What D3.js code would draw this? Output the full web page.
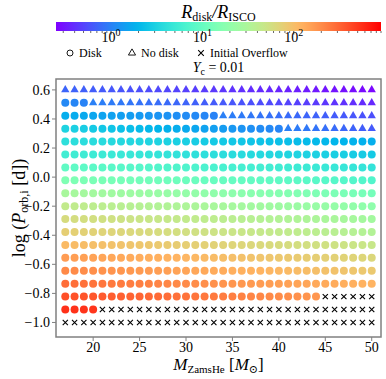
<!DOCTYPE html>
<html>
<head>
<meta charset="utf-8">
<script src="https://cdn.jsdelivr.net/npm/d3@7"></script>
<style>
  body { margin: 0; background: #fff; }
  text { font-family: "Liberation Serif", "DejaVu Serif", serif; fill: #000; }
</style>
</head>
<body>
<div id="chart"></div>
<script>
// grid of initial helium star masses and orbital periods
var masses = [17, 18, 19, 20, 21, 22, 23, 24, 25, 26, 27, 28, 29, 30, 31, 32, 33,
              34, 35, 36, 37, 38, 39, 40, 41, 42, 43, 44, 45, 46, 47, 48, 49, 50];
var logPorb = [-1.0, -0.9111, -0.8222, -0.7333, -0.6444, -0.5556, -0.4667, -0.3778, -0.2889, -0.2,
               -0.1111, -0.0222, 0.0667, 0.1556, 0.2444, 0.3333, 0.4222, 0.5111, 0.6];
var xTicks = [20, 25, 30, 35, 40, 45, 50];
var yTicks = [-1.0, -0.8, -0.6, -0.4, -0.2, 0.0, 0.2, 0.4, 0.6];
var cbarTicks = [1, 10, 100];
var cbarRange = [0.25, 900];

// R_disk / R_ISCO per row of logPorb, one value per mass; a short row means
// the remaining masses overflow their Roche lobe at the start
var ratioRows = [
  [],
  [550, 540, 530, 520],
  [396, 384, 373, 362, 351, 340, 330, 320, 311, 302, 293, 284, 275, 267, 259, 251, 244, 237, 230, 223,
   216, 210, 203, 197, 192, 186, 180, 175],
  [286, 278, 271, 263, 256, 249, 243, 236, 230, 224, 218, 212, 206, 200, 195, 190, 185, 180, 175, 170,
   166, 161, 157, 153, 149, 145, 141, 137, 133, 130, 126, 123, 120, 116],
  [206, 200, 195, 190, 184, 179, 175, 170, 166, 161, 157, 153, 148, 144, 140, 137, 133, 130, 126, 122,
   120, 116, 113, 110, 107, 104, 102, 99, 96, 94, 91, 89, 86, 84],
  [161, 157, 153, 148, 144, 140, 137, 133, 129, 126, 123, 119, 116, 113, 110, 107, 104, 101, 98.5, 95.7,
   93.5, 90.6, 88.4, 86.1, 83.9, 81.6, 79.4, 77.1, 74.9, 73.2, 70.9, 69.2, 67.6, 65.3],
  [107, 104, 102, 99.5, 97, 94.7, 92.4, 90.1, 87.9, 85.8, 83.7, 81.6, 79.6, 77.7, 75.8, 73.9, 72.1, 70.4, 68.6, 67,
   65.3, 63.7, 62.2, 60.6, 59.2, 57.7, 56.3, 54.9, 53.6, 52.3, 51, 49.7, 48.5, 47.3],
  [77.1, 74.9, 73.5, 71.7, 69.9, 68.2, 66.6, 64.9, 63.3, 61.8, 60.3, 58.8, 57.4, 56, 54.6, 53.3, 52, 50.7, 49.4, 48.3,
   47.1, 45.9, 44.8, 43.7, 42.7, 41.6, 40.6, 39.6, 38.6, 37.7, 36.8, 35.8, 34.9, 34.1],
  [60.4, 58.7, 57.6, 56.2, 54.8, 53.5, 52.2, 50.9, 49.6, 48.4, 47.2, 46.1, 44.9, 43.9, 42.8, 41.7, 40.7, 39.7, 38.7, 37.8,
   36.9, 36, 35.1, 34.2, 33.4, 32.6, 31.8, 31, 30.3, 29.5, 28.8, 28.1, 27.4, 26.7],
  [43.5, 42.3, 41.5, 40.4, 39.4, 38.5, 37.6, 36.6, 35.7, 34.9, 34, 33.2, 32.4, 31.6, 30.8, 30, 29.3, 28.6, 27.9, 27.2,
   26.5, 25.9, 25.3, 24.6, 24.1, 23.5, 22.9, 22.3, 21.8, 21.3, 20.7, 20.2, 19.7, 19.2],
  [28.8, 28, 27.5, 26.8, 26.1, 25.5, 24.9, 24.3, 23.7, 23.1, 22.5, 22, 21.4, 20.9, 20.4, 19.9, 19.4, 19, 18.5, 18,
   17.6, 17.1, 16.7, 16.3, 15.9, 15.5, 15.2, 14.8, 14.4, 14.1, 13.7, 13.4, 13.1, 12.7],
  [15.0, 14.7, 14.3, 14.0, 13.7, 13.4, 13.1, 12.8, 12.5, 12.3, 12.0, 11.7, 11.5, 11.2, 11.0, 10.7, 10.5, 10.3, 10.0, 9.8,
   9.6, 9.4, 9.2, 9.0, 8.8, 8.6, 8.4, 8.2, 8.0, 7.85, 7.7, 7.5, 7.35, 7.18],
  [9.18, 9.0, 8.75, 8.57, 8.38, 8.2, 8.02, 7.83, 7.65, 7.53, 7.34, 7.16, 7.04, 6.85, 6.73, 6.55, 6.43, 6.3, 6.12, 6.0,
   5.88, 5.75, 5.63, 5.51, 5.39, 5.26, 5.14, 5.02, 4.9, 4.8, 4.71, 4.59, 4.5, 4.4],
  [5.61, 5.5, 5.35, 5.24, 5.12, 5.01, 4.9, 4.79, 4.68, 4.6, 4.49, 4.38, 4.3, 4.19, 4.11, 4.0, 3.93, 3.85, 3.74, 3.67,
   3.59, 3.52, 3.44, 3.37, 3.29, 3.22, 3.14, 3.07, 2.99, 2.94, 2.88, 2.81, 2.75, 2.69],
  [4.05, 3.94, 3.86, 3.77, 3.67, 3.58, 3.5, 3.41, 3.33, 3.25, 3.17, 3.09, 3.01, 2.94, 2.87, 2.8, 2.73, 2.66, 2.6, 2.54,
   2.47, 2.41, 2.35, 2.29, 2.24, 2.18, 2.13, 2.08, 2.03, 1.98, 1.93, 1.88, 1.84, 1.79],
  [3.16, 3.01, 2.87, 2.73, 2.6, 2.48, 2.36, 2.25, 2.14, 2.04, 1.95, 1.85, 1.77, 1.68, 1.6, 1.53, 1.46, 1.39, 1.32, 1.26,
   1.2, 1.14, 1.09, 1.04, 0.99, 0.94, 0.9, 0.86, 0.82, 0.78, 0.74, 0.71, 0.67, 0.64],
  [1.78, 1.72, 1.66, 1.6, 1.55, 1.5, 1.45, 1.4, 1.35, 1.3, 1.26, 1.22, 1.17, 1.13, 1.1, 1.06, 1.02, 0.99, 0.955, 0.92,
   0.89, 0.86, 0.83, 0.8, 0.775, 0.75, 0.72, 0.7, 0.675, 0.65, 0.63, 0.61, 0.59, 0.57],
  [1.09, 1.055, 1.02, 0.99, 0.96, 0.93, 0.9, 0.87, 0.84, 0.815, 0.79, 0.765, 0.74, 0.715, 0.69, 0.67, 0.65, 0.63, 0.61, 0.59,
   0.57, 0.552, 0.535, 0.518, 0.5, 0.485, 0.47, 0.455, 0.44, 0.427, 0.413, 0.4, 0.388, 0.377],
  [0.724, 0.703, 0.682, 0.662, 0.642, 0.623, 0.605, 0.587, 0.57, 0.553, 0.537, 0.521, 0.505, 0.49, 0.476, 0.462, 0.448, 0.435, 0.422, 0.41,
   0.398, 0.386, 0.375, 0.364, 0.353, 0.342, 0.332, 0.322, 0.313, 0.304, 0.295, 0.286, 0.278, 0.27]
];

// matplotlib "rainbow" colormap
function rainbow(t) {
    var r = Math.min(1, Math.abs(2 * t - 0.5));
    var g = Math.sin(t * Math.PI);
    var b = Math.cos(t * Math.PI / 2);
    return d3.rgb(r * 255, g * 255, b * 255).toString();
}

var W = 386, H = 379;
var plot = {left: 56, right: 381, top: 79, bottom: 337};
var cbar = {left: 56, right: 381, top: 22, bottom: 31};
var axisGray = "#808080";

var svg = d3.select("#chart").append("svg")
    .attr("width", W).attr("height", H);

var x = d3.scaleLinear().domain([16, 51]).range([plot.left, plot.right]);
var y = d3.scaleLinear().domain([-1.1, 0.675]).range([plot.bottom, plot.top]);
var color = d3.scaleSequentialLog(rainbow).domain(cbarRange);
var cx = d3.scaleLog().domain(cbarRange).range([cbar.left, cbar.right]);

// ---- colorbar ----
var defs = svg.append("defs");
var grad = defs.append("linearGradient").attr("id", "cbar-grad")
    .attr("x1", "0%").attr("x2", "100%").attr("y1", "0%").attr("y2", "0%");
d3.range(0, 1.0001, 0.02).forEach(function(t) {
    grad.append("stop").attr("offset", (t * 100) + "%").attr("stop-color", rainbow(t));
});
svg.append("rect")
    .attr("x", cbar.left).attr("y", cbar.top)
    .attr("width", cbar.right - cbar.left).attr("height", cbar.bottom - cbar.top)
    .attr("fill", "url(#cbar-grad)");

var minorTicks = [];
[0.1, 1, 10, 100].forEach(function(dec) {
    for (var k = 2; k <= 9; k++) {
        var v = dec * k;
        if (v >= cbarRange[0] && v <= cbarRange[1]) minorTicks.push(v);
    }
});
svg.append("g").selectAll("line").data(minorTicks).enter().append("line")
    .attr("x1", function(d) { return cx(d); }).attr("x2", function(d) { return cx(d); })
    .attr("y1", cbar.bottom).attr("y2", cbar.bottom + 2)
    .attr("stroke", "#000").attr("stroke-width", 0.6);

var cbTick = svg.append("g").selectAll("g").data(cbarTicks).enter().append("g")
    .attr("transform", function(d) { return "translate(" + cx(d) + ",0)"; });
cbTick.append("line")
    .attr("y1", cbar.bottom).attr("y2", cbar.bottom + 3.5)
    .attr("stroke", "#000").attr("stroke-width", 0.8);
var cbLab = cbTick.append("text")
    .attr("y", 42).attr("text-anchor", "middle").attr("font-size", "14px");
cbLab.append("tspan").text("10");
cbLab.append("tspan").attr("dy", -6).attr("font-size", "10px")
    .text(function(d) { return Math.round(Math.log10(d)); });

var cbTitle = svg.append("text")
    .attr("x", (cbar.left + cbar.right) / 2).attr("y", 18)
    .attr("text-anchor", "middle").attr("font-size", "18px");
cbTitle.append("tspan").attr("font-style", "italic").text("R");
cbTitle.append("tspan").attr("font-size", "12px").attr("dy", 3).text("disk");
cbTitle.append("tspan").attr("dy", -3).attr("font-style", "italic").text("/R");
cbTitle.append("tspan").attr("font-size", "12px").attr("dy", 3).text("ISCO");

// ---- legend ----
var legend = svg.append("g").attr("transform", "translate(0,53)");
var legItems = [
    {label: "Disk", x: 70, shape: "circle"},
    {label: "No disk", x: 132, shape: "triangle"},
    {label: "Initial Overflow", x: 201, shape: "cross"}
];
legItems.forEach(function(it) {
    var g = legend.append("g").attr("transform", "translate(" + it.x + ",0)");
    if (it.shape == "circle") {
        g.append("circle").attr("r", 3).attr("fill", "none").attr("stroke", "#000").attr("stroke-width", 0.9);
    } else if (it.shape == "triangle") {
        g.append("path").attr("d", d3.symbol(d3.symbolTriangle, 22)())
            .attr("fill", "none").attr("stroke", "#000").attr("stroke-width", 0.9);
    } else {
        g.append("path").attr("d", "M-2.8,-2.8L2.8,2.8M-2.8,2.8L2.8,-2.8")
            .attr("stroke", "#000").attr("stroke-width", 1.1);
    }
    g.append("text").attr("x", 9).attr("y", 4).attr("font-size", "12px").text(it.label);
});

var yc = svg.append("text")
    .attr("x", (plot.left + plot.right) / 2).attr("y", 72)
    .attr("text-anchor", "middle").attr("font-size", "14px");
yc.append("tspan").attr("font-style", "italic").text("Y");
yc.append("tspan").attr("font-size", "10px").attr("dy", 3).text("c");
yc.append("tspan").attr("dy", -3).text(" = 0.01");

// ---- grid points ----
var points = [];
logPorb.forEach(function(p, i) {
    masses.forEach(function(m, j) {
        var v = ratioRows[i][j];
        points.push({m: m, p: p, v: v});
    });
});

var pts = svg.append("g");
points.forEach(function(d) {
    var px = x(d.m), py = y(d.p);
    if (d.v === undefined) {
        pts.append("path")
            .attr("d", "M-2.6,-2.6L2.6,2.6M-2.6,2.6L2.6,-2.6")
            .attr("transform", "translate(" + px + "," + py + ")")
            .attr("stroke", "#000").attr("stroke-width", 1.1);
    } else if (d.v < 1) {
        pts.append("path")
            .attr("d", d3.symbol(d3.symbolTriangle, 30)())
            .attr("transform", "translate(" + px + "," + py + ")")
            .attr("fill", color(d.v));
    } else {
        pts.append("circle")
            .attr("cx", px).attr("cy", py).attr("r", 4)
            .attr("fill", color(d.v));
    }
});

// ---- axes frame ----
svg.append("rect")
    .attr("x", plot.left).attr("y", plot.top)
    .attr("width", plot.right - plot.left).attr("height", plot.bottom - plot.top)
    .attr("fill", "none").attr("stroke", axisGray).attr("stroke-width", 1.5);

var xt = svg.append("g").selectAll("g").data(xTicks).enter().append("g")
    .attr("transform", function(d) { return "translate(" + x(d) + "," + plot.bottom + ")"; });
xt.append("line").attr("y1", 0).attr("y2", 4).attr("stroke", axisGray).attr("stroke-width", 1);
xt.append("text").attr("y", 15).attr("text-anchor", "middle").attr("font-size", "14px")
    .text(function(d) { return d; });

var yt = svg.append("g").selectAll("g").data(yTicks).enter().append("g")
    .attr("transform", function(d) { return "translate(" + plot.left + "," + y(d) + ")"; });
yt.append("line").attr("x1", 0).attr("x2", -4).attr("stroke", axisGray).attr("stroke-width", 1);
yt.append("text").attr("x", -6).attr("dy", "0.35em").attr("text-anchor", "end").attr("font-size", "14px")
    .text(function(d) { return d3.format(".1f")(d).replace("-", "\u2212"); });

// axis labels
var xl = svg.append("text")
    .attr("x", (plot.left + plot.right) / 2).attr("y", 370)
    .attr("text-anchor", "middle").attr("font-size", "17px");
xl.append("tspan").attr("font-style", "italic").text("M");
xl.append("tspan").attr("font-size", "11px").attr("dy", 3).text("ZamsHe");
xl.append("tspan").attr("dy", -3).text(" [");
xl.append("tspan").attr("font-style", "italic").text("M");
xl.append("tspan").attr("font-size", "11px").attr("dy", 3).text("\u2299");
xl.append("tspan").attr("dy", -3).text("]");

var yl = svg.append("text")
    .attr("transform", "translate(25," + ((plot.top + plot.bottom) / 2) + ") rotate(-90)")
    .attr("text-anchor", "middle").attr("font-size", "18px");
yl.append("tspan").text("log (");
yl.append("tspan").attr("font-style", "italic").text("P");
yl.append("tspan").attr("font-size", "12px").attr("dy", 3).text("orb,i");
yl.append("tspan").attr("dy", -3).text(" [d])");
</script>
</body>
</html>
